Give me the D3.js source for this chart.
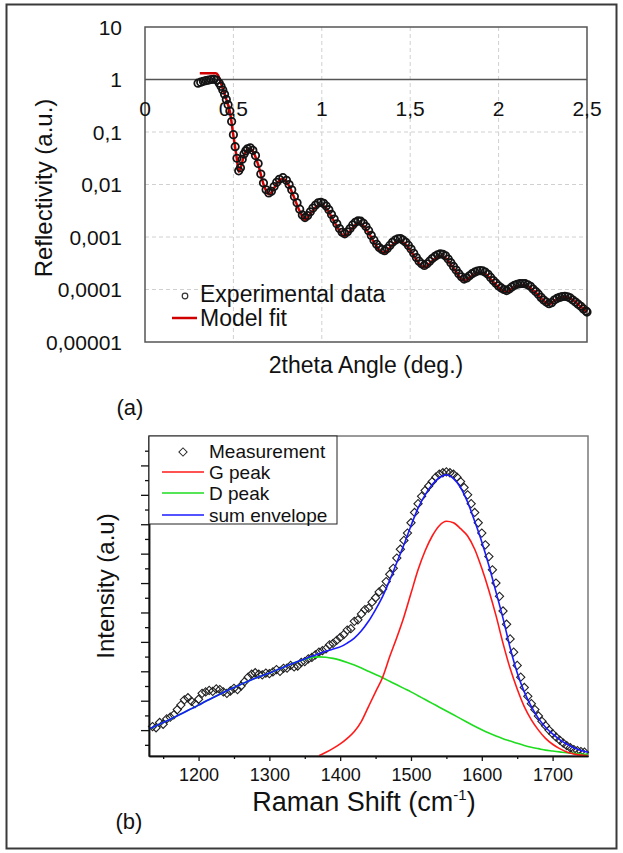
<!DOCTYPE html>
<html>
<head>
<meta charset="utf-8">
<script src="https://cdnjs.cloudflare.com/ajax/libs/d3/7.8.5/d3.min.js"></script>
<style>
body { margin: 0; background: white; }
svg text { font-family: "Liberation Sans", Arial, sans-serif; fill: #111; }
</style>
</head>
<body>
<div id="chart"></div>
<script>
var svgWidth = 623
var svgHeight = 853

// ---- panel (a) : reflectivity ----
var xrrAngle = [0.300, 0.315, 0.330, 0.345, 0.360, 0.375, 0.390, 0.405, 0.420, 0.430, 0.440, 0.450, 0.460, 0.470, 0.480, 0.490, 0.500, 0.510, 0.520, 0.530,
	0.540, 0.550, 0.560, 0.570, 0.580, 0.595, 0.610, 0.625, 0.640, 0.655, 0.670, 0.685, 0.700, 0.715, 0.730, 0.745, 0.760, 0.780, 0.800, 0.815,
	0.830, 0.845, 0.860, 0.875, 0.890, 0.905, 0.920, 0.935, 0.950, 0.965, 0.980, 0.995, 1.010, 1.025, 1.040, 1.055, 1.070, 1.085, 1.100, 1.115,
	1.130, 1.145, 1.160, 1.175, 1.190, 1.205, 1.220, 1.235, 1.250, 1.265, 1.280, 1.295, 1.310, 1.325, 1.340, 1.355, 1.370, 1.385, 1.400, 1.415,
	1.430, 1.445, 1.460, 1.475, 1.490, 1.505, 1.520, 1.535, 1.550, 1.565, 1.580, 1.595, 1.610, 1.625, 1.640, 1.655, 1.670, 1.685, 1.700, 1.715,
	1.730, 1.745, 1.760, 1.775, 1.790, 1.805, 1.820, 1.835, 1.850, 1.865, 1.880, 1.895, 1.910, 1.925, 1.940, 1.955, 1.970, 1.985, 2.000, 2.015,
	2.030, 2.045, 2.060, 2.075, 2.090, 2.105, 2.120, 2.135, 2.150, 2.165, 2.180, 2.195, 2.210, 2.225, 2.240, 2.255, 2.270, 2.285, 2.300, 2.315,
	2.330, 2.345, 2.360, 2.375, 2.390, 2.405, 2.420, 2.435, 2.450, 2.465, 2.480, 2.495, 2.500]
var xrrData = [0.851, 0.891, 0.923, 0.955, 0.977, 1.0, 1.01, 0.977, 0.851, 0.741, 0.631, 0.525, 0.417, 0.331, 0.251, 0.158, 0.0891, 0.0525, 0.0316, 0.0182,
	0.0209, 0.0302, 0.038, 0.0437, 0.0479, 0.0501, 0.0447, 0.0355, 0.0251, 0.0158, 0.0107, 0.00794, 0.00692, 0.00741, 0.00912, 0.011, 0.0126, 0.0135, 0.012, 0.01,
	0.00794, 0.00589, 0.00447, 0.00339, 0.00263, 0.00234, 0.00257, 0.00302, 0.00355, 0.00407, 0.00447, 0.00457, 0.00437, 0.00389, 0.00331, 0.00269, 0.00219, 0.00178, 0.00145, 0.00123,
	0.00115, 0.00126, 0.00145, 0.0017, 0.00191, 0.00204, 0.002, 0.00182, 0.00158, 0.00132, 0.00107, 0.000871, 0.000724, 0.000631, 0.000575, 0.00055, 0.000603, 0.000692, 0.000794, 0.000871,
	0.000923, 0.000933, 0.000871, 0.000794, 0.000692, 0.000589, 0.00049, 0.000407, 0.000347, 0.000309, 0.000288, 0.000309, 0.000347, 0.000389, 0.000427, 0.000457, 0.000479, 0.000468, 0.000437, 0.00038,
	0.000324, 0.000275, 0.000234, 0.0002, 0.000174, 0.000158, 0.000166, 0.000182, 0.0002, 0.000214, 0.000224, 0.000229, 0.000226, 0.000214, 0.000195, 0.00017, 0.000148, 0.000132, 0.000117, 0.000107,
	0.0001, 0.0000955, 0.000102, 0.000112, 0.00012, 0.000126, 0.000129, 0.00013, 0.000129, 0.000123, 0.000115, 0.000102, 0.0000912, 0.0000813, 0.0000708, 0.0000631, 0.0000575, 0.0000537, 0.0000562, 0.0000631,
	0.0000676, 0.0000708, 0.0000733, 0.0000741, 0.0000724, 0.0000692, 0.0000631, 0.0000575, 0.0000525, 0.0000479, 0.0000427, 0.0000389, 0.0000372]

var fitAngle = [0.310, 0.400, 0.412, 0.425, 0.440, 0.460, 0.480, 0.500, 0.520, 0.530, 0.540, 0.560, 0.580, 0.595, 0.610, 0.640, 0.670, 0.700, 0.715, 0.745,
	0.780, 0.815, 0.845, 0.875, 0.905, 0.935, 0.965, 0.995, 1.025, 1.055, 1.085, 1.115, 1.130, 1.160, 1.190, 1.205, 1.235, 1.265, 1.295, 1.325,
	1.355, 1.385, 1.415, 1.445, 1.475, 1.505, 1.535, 1.565, 1.580, 1.610, 1.640, 1.670, 1.700, 1.730, 1.760, 1.790, 1.805, 1.835, 1.865, 1.895,
	1.925, 1.955, 1.985, 2.015, 2.045, 2.075, 2.105, 2.135, 2.165, 2.195, 2.225, 2.255, 2.285, 2.315, 2.345, 2.375, 2.405, 2.435, 2.465, 2.500]
var fitData = [1.32, 1.32, 1.22, 0.95, 0.66, 0.42, 0.245, 0.085, 0.03, 0.0175, 0.02, 0.036, 0.046, 0.048, 0.043, 0.024, 0.0102, 0.0065, 0.007, 0.0104,
	0.0128, 0.0094, 0.0055, 0.0031, 0.00213, 0.00277, 0.0037, 0.0041, 0.0035, 0.00242, 0.0016, 0.00111, 0.00104, 0.0013, 0.00172, 0.00183, 0.00165, 0.0012, 0.00079, 0.00057,
	0.0005, 0.00063, 0.00079, 0.00085, 0.00072, 0.00053, 0.00037, 0.00028, 0.000262, 0.000315, 0.000388, 0.000435, 0.0004, 0.0003, 0.000215, 0.00016, 0.000146, 0.000168, 0.000197, 0.00021,
	0.000198, 0.000158, 0.000123, 0.0001, 0.000089, 0.000104, 0.000117, 0.000121, 0.000116, 0.000097, 0.000078, 0.000061, 0.000052, 0.000061, 0.000069, 0.000072, 0.000068, 0.000057, 0.000047, 0.0000372]

var xrrXTicks = [0, 0.5, 1, 1.5, 2, 2.5]
var xrrXLabels = ["0", "0,5", "1", "1,5", "2", "2,5"]
var xrrYTicks = [10, 1, 0.1, 0.01, 0.001, 0.0001, 0.00001]
var xrrYLabels = ["10", "1", "0,1", "0,01", "0,001", "0,0001", "0,00001"]

// ---- panel (b) : Raman ----
var ramanShift = [1130, 1140, 1150, 1160, 1170, 1180, 1190, 1200, 1210, 1220, 1230, 1240, 1250, 1260, 1270, 1280, 1290, 1300, 1310, 1320,
	1330, 1340, 1350, 1360, 1370, 1380, 1390, 1400, 1410, 1420, 1430, 1440, 1450, 1460, 1470, 1480, 1490, 1500, 1510, 1520,
	1530, 1540, 1550, 1560, 1570, 1580, 1590, 1600, 1610, 1620, 1630, 1640, 1650, 1660, 1670, 1680, 1690, 1700, 1710, 1720,
	1730, 1740, 1750]
var gPeak = [null, null, null, null, null, null, null, null, null, null, null, null, null, null, null, null, null, null, null, null,
	null, null, null, null, 130, 250, 380, 530, 720, 950, 1300, 1800, 2300, 2800, 3500, 4150, 4850, 5650, 6450, 7100,
	7600, 7950, 8100, 8050, 7850, 7600, 7150, 6500, 5750, 4900, 3950, 3100, 2400, 1800, 1350, 1000, 720, 520, 370, 260,
	190, 150, 130]
var dPeak = [1040, 1150, 1260, 1370, 1490, 1610, 1730, 1850, 1980, 2100, 2220, 2340, 2450, 2560, 2660, 2760, 2850, 2940, 3040, 3140,
	3240, 3330, 3410, 3470, 3490, 3480, 3440, 3380, 3300, 3210, 3110, 3000, 2890, 2780, 2660, 2540, 2420, 2300, 2170, 2040,
	1910, 1780, 1650, 1520, 1390, 1260, 1130, 1010, 900, 800, 710, 630, 550, 480, 420, 370, 320, 290, 260, 230,
	210, 190, 180]
var sumEnvelope = [1040, 1150, 1260, 1370, 1490, 1610, 1730, 1850, 1980, 2100, 2220, 2340, 2450, 2560, 2660, 2760, 2850, 2940, 3040, 3140,
	3240, 3330, 3420, 3510, 3600, 3680, 3760, 3830, 3960, 4130, 4380, 4700, 5100, 5550, 6100, 6700, 7300, 7950, 8550, 9000,
	9350, 9580, 9680, 9550, 9250, 8750, 8100, 7400, 6600, 5700, 4800, 3800, 2950, 2300, 1800, 1400, 1100, 870, 680, 530,
	400, 310, 250]

var measShift = [1135, 1140, 1145, 1150, 1155, 1160, 1165, 1170, 1175, 1180, 1185, 1190, 1195, 1200, 1205, 1210, 1215, 1220, 1225, 1230,
	1235, 1240, 1245, 1250, 1255, 1260, 1265, 1270, 1275, 1280, 1285, 1290, 1295, 1300, 1305, 1310, 1315, 1320, 1325, 1330,
	1335, 1340, 1345, 1350, 1355, 1360, 1365, 1370, 1375, 1380, 1385, 1390, 1395, 1400, 1405, 1410, 1415, 1420, 1425, 1430,
	1435, 1440, 1445, 1450, 1455, 1460, 1465, 1470, 1475, 1480, 1485, 1490, 1495, 1500, 1505, 1510, 1515, 1520, 1525, 1530,
	1535, 1540, 1545, 1550, 1555, 1560, 1565, 1570, 1575, 1580, 1585, 1590, 1595, 1600, 1605, 1610, 1615, 1620, 1625, 1630,
	1635, 1640, 1645, 1650, 1655, 1660, 1665, 1670, 1675, 1680, 1685, 1690, 1695, 1700, 1705, 1710, 1715, 1720, 1725, 1730,
	1735, 1740, 1745]
var measIntensity = [1120, 1080, 1260, 1200, 1380, 1440, 1520, 1700, 1850, 2030, 2100, 1980, 1900, 2050, 2250, 2300, 2350, 2320, 2400, 2380,
	2300, 2250, 2330, 2420, 2380, 2500, 2650, 2800, 2900, 2950, 2900, 2880, 2940, 2920, 2980, 3060, 3000, 3100, 3110, 3200,
	3150, 3180, 3300, 3330, 3420, 3470, 3560, 3650, 3700, 3760, 3900, 3950, 4050, 4150, 4250, 4400, 4450, 4700, 4750, 4950,
	5100, 5150, 5350, 5500, 5700, 5800, 6050, 6300, 6500, 6850, 7150, 7450, 7700, 8050, 8400, 8700, 8950, 9150, 9300, 9450,
	9600, 9700, 9750, 9780, 9750, 9700, 9600, 9450, 9250, 9000, 8700, 8400, 8050, 7700, 7300, 6900, 6450, 6000, 5550, 5050,
	4600, 4100, 3650, 3200, 2800, 2450, 2150, 1900, 1700, 1480, 1300, 1150, 1000, 880, 760, 660, 560, 470, 400, 340,
	300, 270, 250]

var ramanTicks = [1200, 1300, 1400, 1500, 1600, 1700]
var ramanMinorTicks = [1150, 1250, 1350, 1450, 1550, 1650]
var intensityTicks = [1000, 2000, 3000, 4000, 5000, 6000, 7000, 8000, 9000, 10000]
var intensityMinorTicks = [500, 1500, 2500, 3500, 4500, 5500, 6500, 7500, 8500, 9500, 10500]

var svg = d3.select("#chart")
	.append("svg")
	.attr("width", svgWidth)
	.attr("height", svgHeight)
	.style("background-color", "white")

// outer frame
svg.append("rect")
	.attr("x", 6.5).attr("y", 4.5)
	.attr("width", 610).attr("height", 844)
	.attr("fill", "none")
	.attr("stroke", "#3a3a3a")
	.attr("stroke-width", 2)

// ================= panel (a) =================
var xA = d3.scaleLinear().domain([0, 2.5]).range([145, 587])
var yA = d3.scaleLog().domain([0.00001, 10]).range([342, 27])

var gA = svg.append("g").attr("id", "panel-a")

gA.selectAll("line.vgrid")
	.data(xrrXTicks.slice(1, 5))
	.enter()
	.append("line")
	.attr("x1", function(d){return xA(d)})
	.attr("x2", function(d){return xA(d)})
	.attr("y1", yA(10))
	.attr("y2", yA(0.00001))
	.attr("stroke", "#d0d0d0")
	.attr("stroke-width", 1)
	.attr("stroke-dasharray", "4,3")

gA.selectAll("line.hgrid")
	.data([0.1, 0.01, 0.001, 0.0001])
	.enter()
	.append("line")
	.attr("x1", xA(0))
	.attr("x2", xA(2.5))
	.attr("y1", function(d){return yA(d)})
	.attr("y2", function(d){return yA(d)})
	.attr("stroke", "#d0d0d0")
	.attr("stroke-width", 1)
	.attr("stroke-dasharray", "4,3")

gA.append("rect")
	.attr("x", xA(0)).attr("y", yA(10))
	.attr("width", xA(2.5) - xA(0))
	.attr("height", yA(0.00001) - yA(10))
	.attr("fill", "none")
	.attr("stroke", "#555")
	.attr("stroke-width", 1.5)

// x axis sits at reflectivity = 1
gA.append("line")
	.attr("x1", xA(0)).attr("x2", xA(2.5))
	.attr("y1", yA(1)).attr("y2", yA(1))
	.attr("stroke", "#555")
	.attr("stroke-width", 1.5)

gA.selectAll("text.xtick")
	.data(xrrXTicks)
	.enter()
	.append("text")
	.attr("x", function(d){return xA(d)})
	.attr("y", yA(1) + 36)
	.attr("text-anchor", "middle")
	.style("font-size", "21px")
	.text(function(d, i){return xrrXLabels[i]})

gA.selectAll("text.ytick")
	.data(xrrYTicks)
	.enter()
	.append("text")
	.attr("x", 122)
	.attr("y", function(d){return yA(d)})
	.attr("dy", "0.36em")
	.attr("text-anchor", "end")
	.style("font-size", "21px")
	.text(function(d, i){return xrrYLabels[i]})

var fitLine = d3.line()
	.x(function(d){return xA(d[0])})
	.y(function(d){return yA(d[1])})
	.curve(d3.curveMonotoneX)

gA.append("path")
	.datum(d3.zip(fitAngle, fitData))
	.attr("d", fitLine)
	.attr("fill", "none")
	.attr("stroke", "#d00000")
	.attr("stroke-width", 2.5)

gA.selectAll("circle.xrr")
	.data(d3.zip(xrrAngle, xrrData))
	.enter()
	.append("circle")
	.attr("cx", function(d){return xA(d[0])})
	.attr("cy", function(d){return yA(d[1])})
	.attr("r", 3.7)
	.attr("fill", "none")
	.attr("stroke", "#141414")
	.attr("stroke-width", 1.8)

// legend (a)
gA.append("circle")
	.attr("cx", 185).attr("cy", 296).attr("r", 2.8)
	.attr("fill", "none").attr("stroke", "#333").attr("stroke-width", 1.2)
gA.append("text")
	.attr("x", 200).attr("y", 302)
	.style("font-size", "23px")
	.text("Experimental data")
gA.append("line")
	.attr("x1", 172).attr("x2", 197)
	.attr("y1", 318).attr("y2", 318)
	.attr("stroke", "#d00000").attr("stroke-width", 2.5)
gA.append("text")
	.attr("x", 200).attr("y", 326)
	.style("font-size", "23px")
	.text("Model fit")

gA.append("text")
	.attr("x", 366).attr("y", 373)
	.attr("text-anchor", "middle")
	.style("font-size", "23px")
	.text("2theta Angle (deg.)")

gA.append("text")
	.attr("transform", "translate(52,188) rotate(-90)")
	.attr("text-anchor", "middle")
	.style("font-size", "24px")
	.text("Reflectivity (a.u.)")

gA.append("text")
	.attr("x", 130).attr("y", 415)
	.attr("text-anchor", "middle")
	.style("font-size", "22px")
	.text("(a)")

// ================= panel (b) =================
var xB = d3.scaleLinear().domain([1130, 1750]).range([149, 588])
var yB = d3.scaleLinear().domain([120, 11000]).range([756, 436])

var gB = svg.append("g").attr("id", "panel-b")

gB.append("rect")
	.attr("x", 149).attr("y", 436)
	.attr("width", 588 - 149).attr("height", 756 - 436)
	.attr("fill", "none")
	.attr("stroke", "#7a7a7a")
	.attr("stroke-width", 1.5)

var diamond = d3.symbol().type(d3.symbolSquare).size(34)

gB.selectAll("path.meas")
	.data(d3.zip(measShift, measIntensity))
	.enter()
	.append("path")
	.attr("d", diamond)
	.attr("transform", function(d){return "translate(" + xB(d[0]) + "," + yB(d[1]) + ") rotate(45)"})
	.attr("fill", "none")
	.attr("stroke", "#222")
	.attr("stroke-width", 1.1)

var peakLine = function(values) {
	return d3.line()
		.defined(function(d){return d[1] !== null})
		.x(function(d){return xB(d[0])})
		.y(function(d){return yB(d[1])})
		.curve(d3.curveMonotoneX)(d3.zip(ramanShift, values))
}

gB.append("path")
	.attr("d", peakLine(dPeak))
	.attr("fill", "none").attr("stroke", "#1edc1e").attr("stroke-width", 1.6)
gB.append("path")
	.attr("d", peakLine(gPeak))
	.attr("fill", "none").attr("stroke", "#ff1a1a").attr("stroke-width", 1.6)
gB.append("path")
	.attr("d", peakLine(sumEnvelope))
	.attr("fill", "none").attr("stroke", "#1a1aff").attr("stroke-width", 1.6)

// axes
var leftMajor = gB.append("g")
	.attr("transform", "translate(149,0)")
	.call(d3.axisLeft(yB).tickValues(intensityTicks).tickSize(8).tickSizeOuter(0).tickFormat(""))
var leftMinor = gB.append("g")
	.attr("transform", "translate(149,0)")
	.call(d3.axisLeft(yB).tickValues(intensityMinorTicks).tickSize(4).tickSizeOuter(0).tickFormat(""))
var bottomMinor = gB.append("g")
	.attr("transform", "translate(0,756)")
	.call(d3.axisBottom(xB).tickValues(ramanMinorTicks).tickSize(3).tickSizeOuter(0).tickFormat(""))
var bottomMajor = gB.append("g")
	.attr("transform", "translate(0,756)")
	.call(d3.axisBottom(xB).tickValues(ramanTicks).tickSize(5).tickSizeOuter(0).tickFormat(d3.format("d")))

gB.selectAll(".domain").attr("stroke", "#111").attr("stroke-width", 1.5)
gB.selectAll(".tick line").attr("stroke", "#111").attr("stroke-width", 1.3)
bottomMajor.selectAll("text")
	.attr("y", 25)
	.attr("dy", 0)
	.style("font-size", "18px")
	.style("font-family", "'Liberation Sans', Arial, sans-serif")
	.attr("fill", "#111")

// legend (b)
var legB = gB.append("g").attr("id", "legend-b")
legB.append("rect")
	.attr("x", 149).attr("y", 436)
	.attr("width", 188).attr("height", 88)
	.attr("fill", "white")
	.attr("stroke", "#222")
	.attr("stroke-width", 1)
legB.append("path")
	.attr("d", diamond)
	.attr("transform", "translate(183,452) rotate(45)")
	.attr("fill", "none").attr("stroke", "#2a2a2a").attr("stroke-width", 1)

var legendItems = [
	{"text": "Measurement", "color": null, "y": 451},
	{"text": "G peak", "color": "#ff1a1a", "y": 472},
	{"text": "D peak", "color": "#1edc1e", "y": 493},
	{"text": "sum envelope", "color": "#1a1aff", "y": 515}]

legB.selectAll("line.leg")
	.data(legendItems.filter(function(d){return d.color !== null}))
	.enter()
	.append("line")
	.attr("x1", 162).attr("x2", 204)
	.attr("y1", function(d){return d.y})
	.attr("y2", function(d){return d.y})
	.attr("stroke", function(d){return d.color})
	.attr("stroke-width", 1.6)

legB.selectAll("text.leg")
	.data(legendItems)
	.enter()
	.append("text")
	.attr("x", 209)
	.attr("y", function(d){return d.y})
	.attr("dy", "0.35em")
	.style("font-size", "19px")
	.text(function(d){return d.text})

var xTitle = gB.append("text")
	.attr("x", 364).attr("y", 811)
	.attr("text-anchor", "middle")
	.style("font-size", "27px")
xTitle.append("tspan").text("Raman Shift (cm")
xTitle.append("tspan").attr("dy", -11).style("font-size", "15px").text("-1")
xTitle.append("tspan").attr("dy", 11).text(")")

gB.append("text")
	.attr("transform", "translate(114,586) rotate(-90)")
	.attr("text-anchor", "middle")
	.style("font-size", "24px")
	.text("Intensity (a.u)")

gB.append("text")
	.attr("x", 129).attr("y", 829)
	.attr("text-anchor", "middle")
	.style("font-size", "22px")
	.text("(b)")
</script>
</body>
</html>
